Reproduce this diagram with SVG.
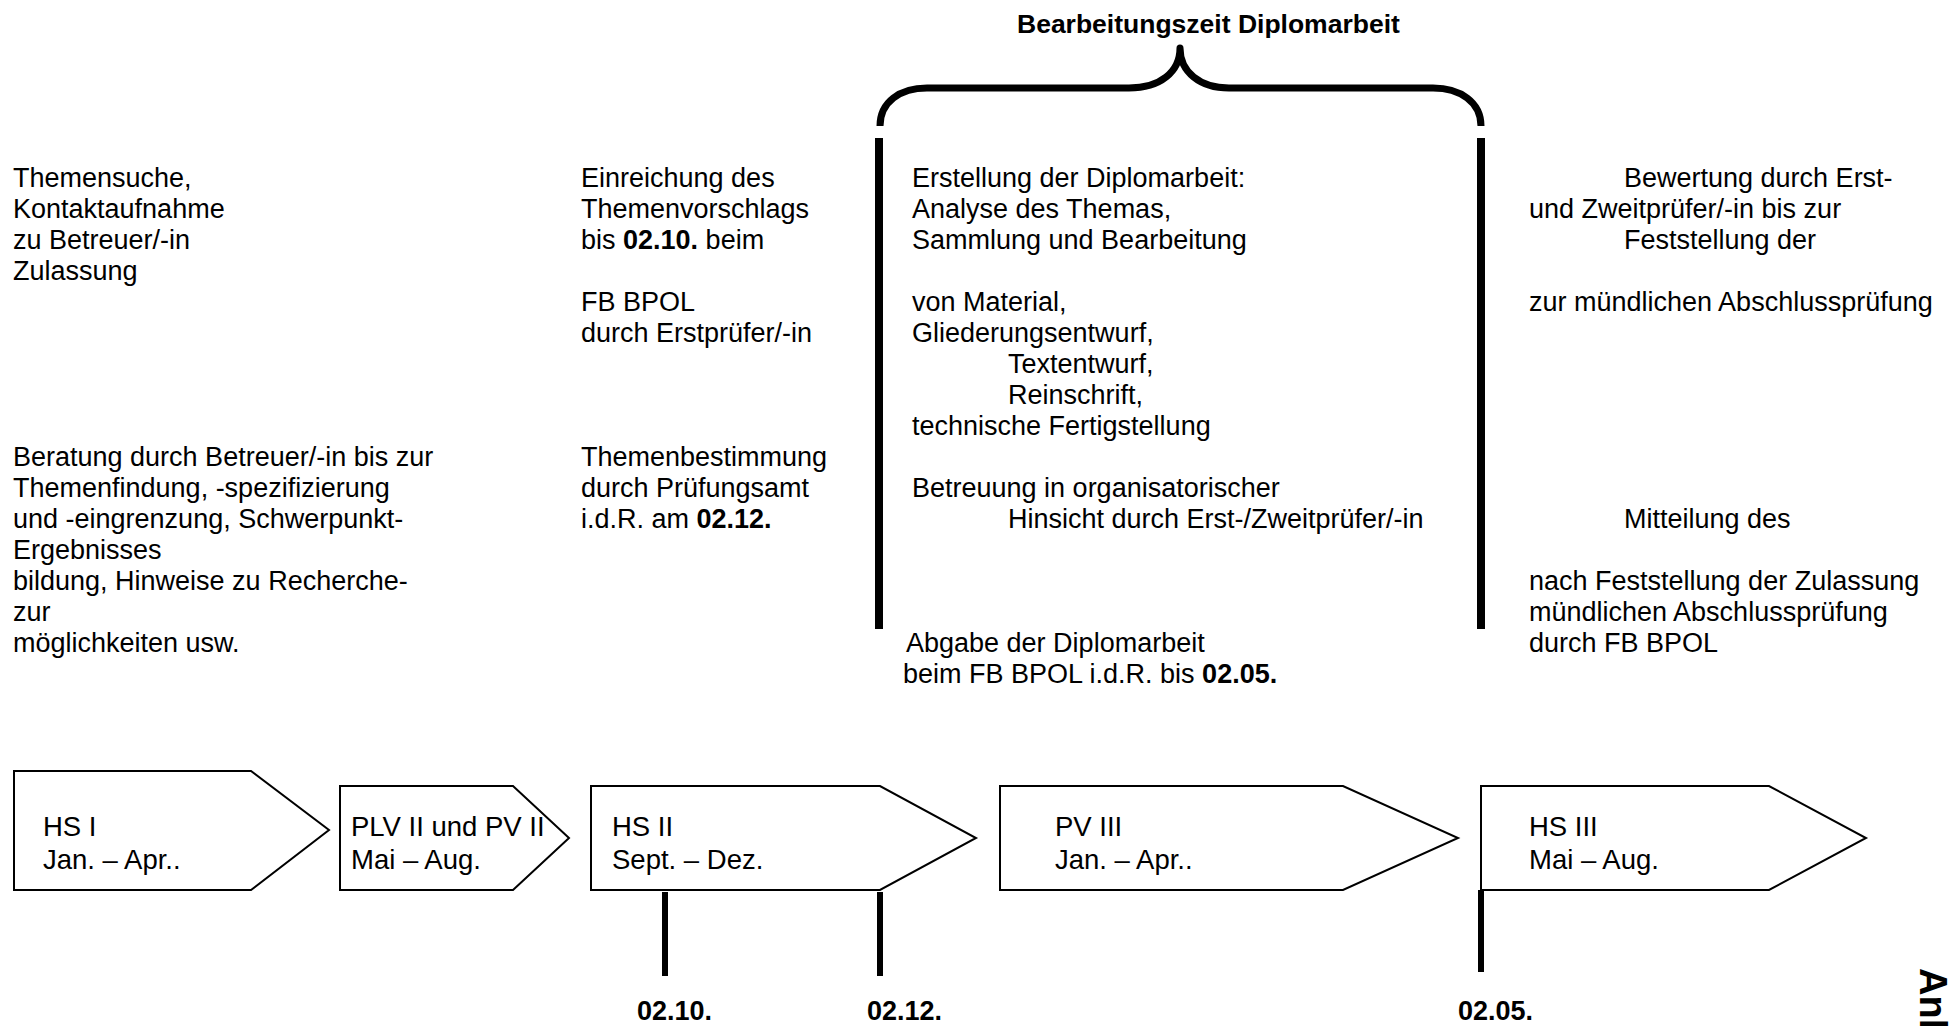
<svg xmlns="http://www.w3.org/2000/svg" width="1951" height="1026" viewBox="0 0 1951 1026">
<style>
text{font-family:"Liberation Sans",Arial,sans-serif;fill:#000}
.t{font-size:27px}
.b{font-weight:bold}
.bx{font-size:27.5px}
.box{fill:#fff;stroke:#000;stroke-width:2}
.bar{stroke:#000;stroke-width:8;fill:none}
.tick{stroke:#000;stroke-width:6;fill:none}
</style>
<rect width="1951" height="1026" fill="#fff"/>
<g id="connectors">
<path d="M880,126 C880,102 900,88 927,88 L1129,88 C1160,88 1180,72 1180,48 C1180,72 1200,88 1229,88 L1433,88 C1460,88 1481,102 1481,126" fill="none" stroke="#000" stroke-width="7" stroke-linejoin="round"/>
<line class="bar" x1="879" y1="138" x2="879" y2="629"/>
<line class="bar" x1="1481" y1="138" x2="1481" y2="629"/>
<line class="tick" x1="665" y1="892" x2="665" y2="976"/>
<line class="tick" x1="880" y1="892" x2="880" y2="976"/>
<line class="tick" x1="1481" y1="890" x2="1481" y2="972"/>
</g>
<g id="title"><text class="b" font-size="26.5" x="1017" y="33">Bearbeitungszeit Diplomarbeit</text></g>
<g id="col1">
<text class="t" x="13" y="187">Themensuche,</text>
<text class="t" x="13" y="218">Kontaktaufnahme</text>
<text class="t" x="13" y="249">zu Betreuer/-in</text>
<text class="t" x="13" y="280">Zulassung</text>
<text class="t" x="13" y="466">Beratung durch Betreuer/-in bis zur</text>
<text class="t" x="13" y="497">Themenfindung, -spezifizierung</text>
<text class="t" x="13" y="528">und -eingrenzung, Schwerpunkt-</text>
<text class="t" x="13" y="559">Ergebnisses</text>
<text class="t" x="13" y="590">bildung, Hinweise zu Recherche-</text>
<text class="t" x="13" y="621">zur</text>
<text class="t" x="13" y="652">möglichkeiten usw.</text>
</g>
<g id="col2">
<text class="t" x="581" y="187">Einreichung des</text>
<text class="t" x="581" y="218">Themenvorschlags</text>
<text class="t" x="581" y="249">bis <tspan class="b">02.10.</tspan> beim</text>
<text class="t" x="581" y="311">FB BPOL</text>
<text class="t" x="581" y="342">durch Erstprüfer/-in</text>
<text class="t" x="581" y="466">Themenbestimmung</text>
<text class="t" x="581" y="497">durch Prüfungsamt</text>
<text class="t" x="581" y="528">i.d.R. am <tspan class="b">02.12.</tspan></text>
</g>
<g id="col3">
<text class="t" x="912" y="187">Erstellung der Diplomarbeit:</text>
<text class="t" x="912" y="218">Analyse des Themas,</text>
<text class="t" x="912" y="249">Sammlung und Bearbeitung</text>
<text class="t" x="912" y="311">von Material,</text>
<text class="t" x="912" y="342">Gliederungsentwurf,</text>
<text class="t" x="1008" y="373">Textentwurf,</text>
<text class="t" x="1008" y="404">Reinschrift,</text>
<text class="t" x="912" y="435">technische Fertigstellung</text>
<text class="t" x="912" y="497">Betreuung in organisatorischer</text>
<text class="t" x="1008" y="528">Hinsicht durch Erst-/Zweitprüfer/-in</text>
<text class="t" x="906" y="652">Abgabe der Diplomarbeit</text>
<text class="t" x="903" y="683">beim FB BPOL i.d.R. bis <tspan class="b">02.05.</tspan></text>
</g>
<g id="col4">
<text class="t" x="1624" y="187">Bewertung durch Erst-</text>
<text class="t" x="1529" y="218">und Zweitprüfer/-in bis zur</text>
<text class="t" x="1624" y="249">Feststellung der</text>
<text class="t" x="1529" y="311">zur mündlichen Abschlussprüfung</text>
<text class="t" x="1624" y="528">Mitteilung des</text>
<text class="t" x="1529" y="590">nach Feststellung der Zulassung</text>
<text class="t" x="1529" y="621">mündlichen Abschlussprüfung</text>
<text class="t" x="1529" y="652">durch FB BPOL</text>
</g>
<g id="hs1"><polygon class="box" points="14,771 251,771 329,830 251,890 14,890"/><text class="bx" x="43" y="836">HS I</text><text class="bx" x="43" y="869">Jan. – Apr..</text></g>
<g id="plv2"><polygon class="box" points="340,786 513,786 569,838 513,890 340,890"/><text class="bx" x="351" y="836">PLV II und PV II</text><text class="bx" x="351" y="869">Mai – Aug.</text></g>
<g id="hs2"><polygon class="box" points="591,786 880,786 976,838 880,890 591,890"/><text class="bx" x="612" y="836">HS II</text><text class="bx" x="612" y="869">Sept. – Dez.</text></g>
<g id="pv3"><polygon class="box" points="1000,786 1343,786 1458,838 1343,890 1000,890"/><text class="bx" x="1055" y="836">PV III</text><text class="bx" x="1055" y="869">Jan. – Apr..</text></g>
<g id="hs3"><polygon class="box" points="1481,786 1769,786 1866,838 1769,890 1481,890"/><text class="bx" x="1529" y="836">HS III</text><text class="bx" x="1529" y="869">Mai – Aug.</text></g>
<g id="dates">
<text class="t b" x="637" y="1020">02.10.</text>
<text class="t b" x="867" y="1020">02.12.</text>
<text class="t b" x="1458" y="1020">02.05.</text>
</g>
<g id="anlage"><text class="b" font-size="38" transform="translate(1920,968) rotate(90)">Anlage</text></g>
</svg>
